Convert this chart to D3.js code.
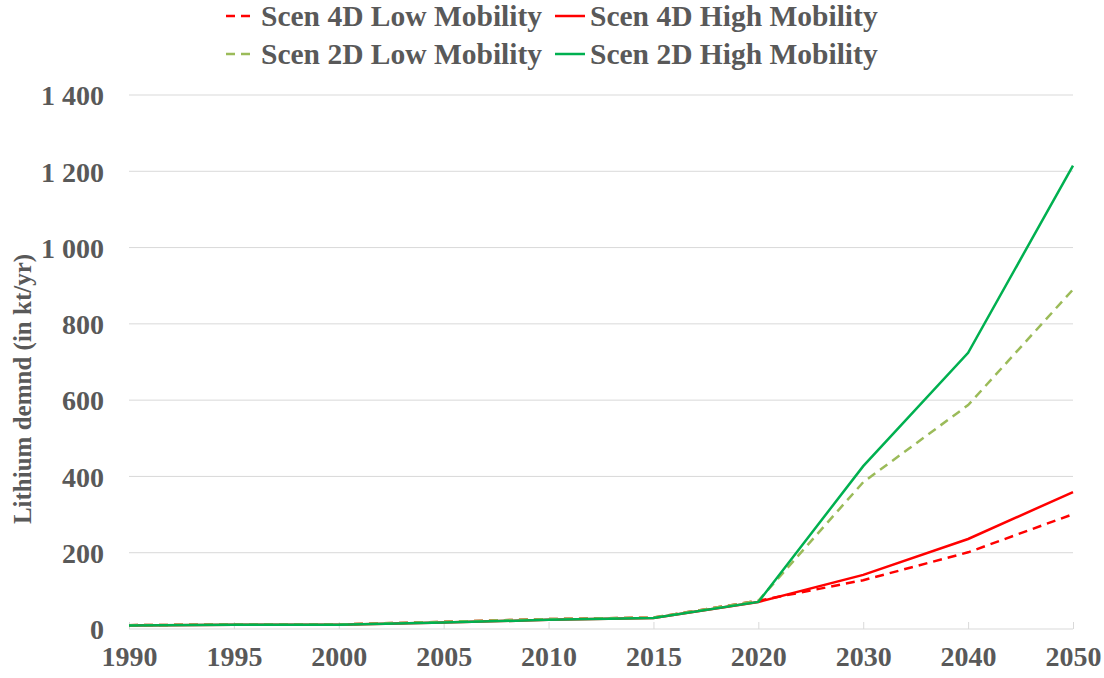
<!DOCTYPE html>
<html>
<head>
<meta charset="utf-8">
<script src="https://cdn.jsdelivr.net/npm/d3@7"></script>
<style>
  body { margin: 0; background: #fff; }
  text { font-family: "Liberation Serif", "Times New Roman", serif; font-weight: bold; fill: #595959; }
</style>
</head>
<body>
<svg width="1104" height="678"></svg>
<script>
// data
const years = ['1990', '1995', '2000', '2005', '2010', '2015', '2020', '2030', '2040', '2050']
const yTicks = [0, 200, 400, 600, 800, 1000, 1200, 1400]
const low4D = [10, 12, 12, 19, 26, 30, 74, 128, 201, 301]
const high4D = [9, 11, 11, 17, 24, 29, 71, 142, 236, 359]
const low2D = [10, 12, 12, 19, 26, 30, 74, 385, 587, 890]
const high2D = [9, 11, 11, 17, 24, 29, 71, 427, 724, 1215]

const seriesNames = ['Scen 4D Low Mobility', 'Scen 4D High Mobility', 'Scen 2D Low Mobility', 'Scen 2D High Mobility']
const seriesColors = ['#ff0000', '#ff0000', '#9bbb59', '#00b050']
const seriesDash = ['9,6', null, '9,6', null]
const seriesValues = [low4D, high4D, low2D, high2D]

const svg = d3.select('svg')
const plotL = 129
const plotR = 1073
const plotT = 95
const plotB = 629

const x = d3.scalePoint()
    .domain(years)
    .range([plotL, plotR])

const y = d3.scaleLinear()
    .domain([0, 1400])
    .range([plotB, plotT])

const fmt = v => d3.format(',')(v).replace(',', ' ')

// gridlines
svg.append('g')
    .selectAll('line')
    .data(yTicks.slice(1))
    .join('line')
    .attr('x1', plotL)
    .attr('x2', plotR)
    .attr('y1', d => y(d))
    .attr('y2', d => y(d))
    .attr('stroke', '#d9d9d9')
    .attr('stroke-width', 1)

// y labels
const yAxis = svg.append('g')
    .attr('transform', `translate(${plotL},0)`)
    .call(d3.axisLeft(y).tickValues(yTicks).tickFormat(fmt).tickSize(0).tickPadding(25))
yAxis.select('.domain').remove()
yAxis.selectAll('text')
    .style('font-size', '28px')
    .attr('dy', '0.35em')

// x axis
const xAxis = svg.append('g')
    .attr('transform', `translate(0,${plotB})`)
    .call(d3.axisBottom(x).tickSize(-7).tickPadding(17))
xAxis.select('.domain').attr('stroke', '#d9d9d9').attr('d', `M${plotL},0H${plotR}`)
xAxis.selectAll('.tick line').attr('stroke', '#d9d9d9')
xAxis.selectAll('text')
    .style('font-size', '28px')

// axis title
svg.append('text')
    .attr('transform', `translate(31,${(plotT + plotB) / 2 + 27}) rotate(-90)`)
    .attr('text-anchor', 'middle')
    .style('font-size', '25px')
    .text('Lithium demnd (in kt/yr)')

// lines
const line = d3.line()
    .x((d, i) => x(years[i]))
    .y(d => y(d))

seriesValues.forEach((vals, k) => {
    svg.append('path')
        .datum(vals)
        .attr('d', line)
        .attr('fill', 'none')
        .attr('stroke', seriesColors[k])
        .attr('stroke-width', 2.5)
        .attr('stroke-dasharray', seriesDash[k])
})

// legend
const legendX = [226, 555]
const legendY = [16, 54]
seriesNames.forEach((name, k) => {
    const g = svg.append('g')
        .attr('transform', `translate(${legendX[k % 2]},${legendY[Math.floor(k / 2)]})`)
    g.append('line')
        .attr('x1', 0)
        .attr('x2', 30)
        .attr('stroke', seriesColors[k])
        .attr('stroke-width', 2.5)
        .attr('stroke-dasharray', seriesDash[k])
    g.append('text')
        .attr('x', 35)
        .attr('dy', '0.35em')
        .style('font-size', '29.5px')
        .text(name)
})
</script>
</body>
</html>
